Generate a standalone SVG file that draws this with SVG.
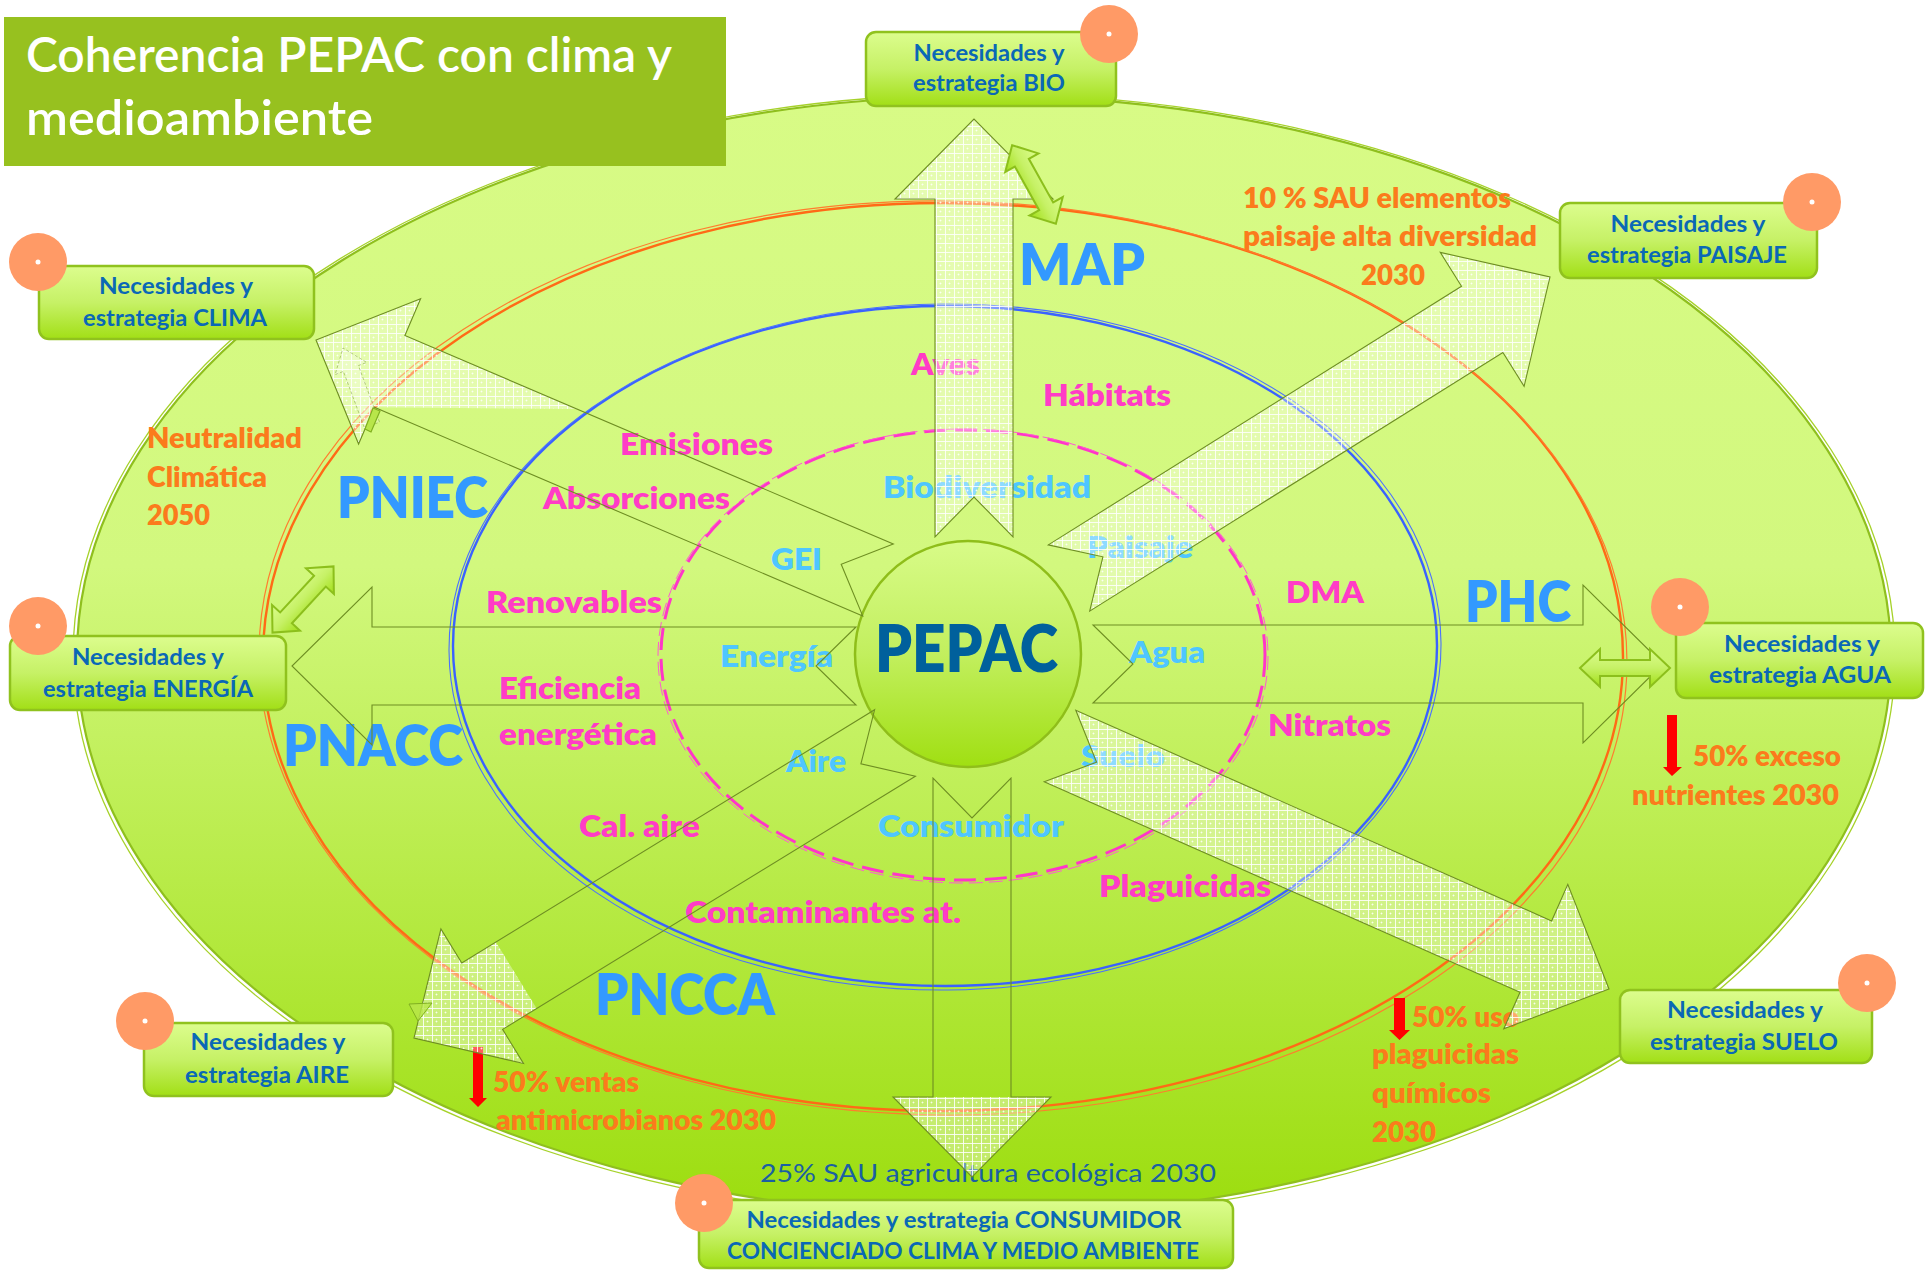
<svg xmlns="http://www.w3.org/2000/svg" xmlns:xlink="http://www.w3.org/1999/xlink" width="1930" height="1270" viewBox="0 0 1930 1270">
<defs>
  <linearGradient id="gOuter" x1="0" y1="0" x2="0" y2="1">
    <stop offset="0" stop-color="#d8fb86"/>
    <stop offset="0.42" stop-color="#d2f87e"/>
    <stop offset="1" stop-color="#9cdd0e"/>
  </linearGradient>
  <linearGradient id="gBox" x1="0" y1="0" x2="0" y2="1">
    <stop offset="0" stop-color="#dcfd8e"/>
    <stop offset="0.5" stop-color="#c6f166"/>
    <stop offset="1" stop-color="#a2df16"/>
  </linearGradient>
  <linearGradient id="gCircle" x1="0" y1="0" x2="0" y2="1">
    <stop offset="0" stop-color="#d8fb88"/>
    <stop offset="0.5" stop-color="#c2ef5e"/>
    <stop offset="1" stop-color="#a0df12"/>
  </linearGradient>
  <pattern id="grid" width="9" height="9" patternUnits="userSpaceOnUse">
    <rect width="9" height="9" fill="#ffffff" fill-opacity="0.36"/>
    <path d="M0 0.5H9M0.5 0V9" stroke="#ffffff" stroke-width="1" stroke-opacity="0.85"/>
    <path d="M4.5 3.5V5.5M3.5 4.5H5.5" stroke="#ffffff" stroke-width="0.8" stroke-opacity="0.8"/>
  </pattern>
  <polygon id="dbl" points="-45,0 -25,-19 -25,-8 25,-8 25,-19 45,0 25,19 25,8 -25,8 -25,19"/>
  <style>
    text { font-family: Lato, "Open Sans", "Liberation Sans", sans-serif; font-weight: bold; }
    .mag { fill: #ff3cc6; font-size: 30px; font-weight: 800; }
    .lb { fill: #4ec6ff; font-size: 30px; font-weight: 800; }
    .org { fill: #fb7b1c; font-size: 28px; font-weight: 800; }
    .plan { fill: #3399ff; font-size: 56px; font-weight: 800; }
    .bx { fill: #0a68b6; font-size: 22px; text-anchor: middle; }
    .box { fill: url(#gBox); stroke: #90c21e; stroke-width: 2.5; }
    .dot { fill: #ff9a66; }
    .wd { fill: #ffffff; }
    .arr { fill: none; stroke: #6e8e22; stroke-width: 1.1; }
    .grd { fill: url(#grid); stroke: none; }
    .red { fill: #ff0000; }
    .sm { fill: url(#gBox); stroke: #8cbf1c; stroke-width: 2; }
  </style>
</defs>

<g id="background">
  <ellipse cx="984" cy="656" rx="907" ry="560" fill="url(#gOuter)" stroke="#8fbf1e" stroke-width="2.2"/>
  <ellipse cx="984" cy="657" rx="911" ry="563" fill="none" stroke="#a6d22a" stroke-width="1.3"/>
  <ellipse cx="943" cy="657" rx="680" ry="454" fill="none" stroke="#ff6a16" stroke-width="2.4"/>
  <ellipse cx="943" cy="658" rx="684" ry="457" fill="none" stroke="#ff7d2e" stroke-width="1.2" transform="rotate(0.6 943 657)"/>
  <ellipse cx="945" cy="646" rx="492" ry="340" fill="none" stroke="#3a62ff" stroke-width="2.4"/>
  <ellipse cx="945" cy="647" rx="496" ry="343" fill="none" stroke="#4a70ff" stroke-width="1.1" transform="rotate(-0.5 945 646)"/>
  <ellipse cx="963" cy="655" rx="302" ry="225" fill="none" stroke="#ff36c8" stroke-width="3" stroke-dasharray="22 9"/>
  <ellipse cx="963" cy="656" rx="305" ry="227" fill="none" stroke="#ff5ad2" stroke-width="1" stroke-dasharray="14 6"/>
</g>

<g id="node-pepac">
  <ellipse cx="968" cy="654" rx="113" ry="113" fill="url(#gCircle)" stroke="#8fbe1a" stroke-width="2.5"/>
  <text x="875" y="672" fill="#00609c" font-size="66" style="font-weight:800" textLength="183" lengthAdjust="spacingAndGlyphs">PEPAC</text>
</g>

<g id="labels">
  <text class="plan" x="1019" y="285" textLength="126" lengthAdjust="spacingAndGlyphs">MAP</text>
  <text class="plan" x="337" y="518" textLength="151" lengthAdjust="spacingAndGlyphs">PNIEC</text>
  <text class="plan" x="1465" y="622" textLength="106" lengthAdjust="spacingAndGlyphs">PHC</text>
  <text class="plan" x="283" y="766" textLength="180" lengthAdjust="spacingAndGlyphs">PNACC</text>
  <text class="plan" x="595" y="1015" textLength="180" lengthAdjust="spacingAndGlyphs">PNCCA</text>

  <text class="mag" x="911" y="375" textLength="69" lengthAdjust="spacingAndGlyphs">Aves</text>
  <text class="mag" x="1043" y="406" textLength="128" lengthAdjust="spacingAndGlyphs">Hábitats</text>
  <text class="mag" x="620" y="455" textLength="153" lengthAdjust="spacingAndGlyphs">Emisiones</text>
  <text class="mag" x="543" y="509" textLength="187" lengthAdjust="spacingAndGlyphs">Absorciones</text>
  <text class="mag" x="486" y="613" textLength="176" lengthAdjust="spacingAndGlyphs">Renovables</text>
  <text class="mag" x="499" y="699" textLength="142" lengthAdjust="spacingAndGlyphs">Eficiencia</text>
  <text class="mag" x="499" y="745" textLength="158" lengthAdjust="spacingAndGlyphs">energética</text>
  <text class="mag" x="579" y="837" textLength="121" lengthAdjust="spacingAndGlyphs">Cal. aire</text>
  <text class="mag" x="685" y="923" textLength="276" lengthAdjust="spacingAndGlyphs">Contaminantes at.</text>
  <text class="mag" x="1099" y="897" textLength="172" lengthAdjust="spacingAndGlyphs">Plaguicidas</text>
  <text class="mag" x="1268" y="736" textLength="123" lengthAdjust="spacingAndGlyphs">Nitratos</text>
  <text class="mag" x="1286" y="603" textLength="78" lengthAdjust="spacingAndGlyphs">DMA</text>

  <text class="lb" x="883" y="498" textLength="208" lengthAdjust="spacingAndGlyphs">Biodiversidad</text>
  <text class="lb" x="771" y="570" textLength="51" lengthAdjust="spacingAndGlyphs">GEI</text>
  <text class="lb" x="1087" y="558" textLength="106" lengthAdjust="spacingAndGlyphs">Paisaje</text>
  <text class="lb" x="720" y="667" textLength="113" lengthAdjust="spacingAndGlyphs">Energía</text>
  <text class="lb" x="1129" y="663" textLength="76" lengthAdjust="spacingAndGlyphs">Agua</text>
  <text class="lb" x="786" y="772" textLength="60" lengthAdjust="spacingAndGlyphs">Aire</text>
  <text class="lb" x="1081" y="767" textLength="84" lengthAdjust="spacingAndGlyphs">Suelo</text>
  <text class="lb" x="878" y="837" textLength="186" lengthAdjust="spacingAndGlyphs">Consumidor</text>

  <text class="org" x="147" y="448" textLength="155" lengthAdjust="spacingAndGlyphs">Neutralidad</text>
  <text class="org" x="147" y="487" textLength="120" lengthAdjust="spacingAndGlyphs">Climática</text>
  <text class="org" x="147" y="525" textLength="63" lengthAdjust="spacingAndGlyphs">2050</text>
  <text class="org" x="1243" y="208" textLength="268" lengthAdjust="spacingAndGlyphs">10 % SAU elementos</text>
  <text class="org" x="1243" y="246" textLength="294" lengthAdjust="spacingAndGlyphs">paisaje alta diversidad</text>
  <text class="org" x="1361" y="285" textLength="64" lengthAdjust="spacingAndGlyphs">2030</text>
  <text class="org" x="1693" y="766" textLength="148" lengthAdjust="spacingAndGlyphs">50% exceso</text>
  <text class="org" x="1632" y="805" textLength="207" lengthAdjust="spacingAndGlyphs">nutrientes 2030</text>
  <text class="org" x="493" y="1092" textLength="146" lengthAdjust="spacingAndGlyphs">50% ventas</text>
  <text class="org" x="496" y="1130" textLength="280" lengthAdjust="spacingAndGlyphs">antimicrobianos 2030</text>
  <text class="org" x="1412" y="1027" textLength="107" lengthAdjust="spacingAndGlyphs">50% uso</text>
  <text class="org" x="1372" y="1064" textLength="147" lengthAdjust="spacingAndGlyphs">plaguicidas</text>
  <text class="org" x="1372" y="1103" textLength="119" lengthAdjust="spacingAndGlyphs">químicos</text>
  <text class="org" x="1372" y="1142" textLength="64" lengthAdjust="spacingAndGlyphs">2030</text>

  <text x="760" y="1182" fill="#1a5fa3" font-size="25" style="font-weight:normal" textLength="456" lengthAdjust="spacingAndGlyphs">25% SAU agricultura ecológica 2030</text>

  <polygon class="red" points="1667,715 1677,715 1677,767 1682,767 1672,776 1663,767 1667,767"/>
  <polygon class="red" points="473,1047 483,1047 483,1098 487,1098 478,1107 469,1098 473,1098"/>
  <polygon class="red" points="1394,998 1405,998 1405,1030 1410,1030 1399.5,1040 1389,1030 1394,1030"/>
</g>

<g id="connectors">
  <polygon class="grd" points="1013,537 1013,199 1053,199 974,119 895,199 935,199 935,537 974,497"/>
  <polygon class="grd" points="1089.7,611.1 1502.9,352.5 1524.1,386.4 1550,277 1440.3,252.4 1461.5,286.3 1048.3,544.9 1102.9,556.8"/>
  <polygon class="grd" points="1044.2,781.7 1520,992.3 1503.8,1028.8 1609,989 1567.8,884.4 1551.6,920.9 1075.8,710.3 1096.6,762.2"/>
  <polygon class="grd" points="316,340 420.6,298.8 404.9,335.5 577,409 374.3,407.3 358.6,444"/>
  <polygon class="grd" points="414,1038 523.5,1063.5 502.6,1029.4 536.7,1008.5 495.9,942.1 461.8,963 440.9,928.9"/>
  <polygon class="grd" points="893,1097 1051,1097 972,1177"/>
  <polygon class="arr" points="1013,537 1013,199 1053,199 974,119 895,199 935,199 935,537 974,497"/>
  <polygon class="arr" points="1011,778 1011,1097 1051,1097 972,1177 893,1097 933,1097 933,778 972,818"/>
  <polygon class="arr" points="856,705 372,705 372,745 292,666 372,587 372,627 856,627 816,666"/>
  <polygon class="arr" points="1093,703 1583,703 1583,743 1663,664 1583,585 1583,625 1093,625 1133,664"/>
  <polygon class="arr" points="862.7,615.9 374.3,407.3 358.6,444 316,340 420.6,298.8 404.9,335.5 893.3,544.1 841.2,564.3"/>
  <polygon class="arr" points="1089.7,611.1 1502.9,352.5 1524.1,386.4 1550,277 1440.3,252.4 1461.5,286.3 1048.3,544.9 1102.9,556.8"/>
  <polygon class="arr" points="1044.2,781.7 1520,992.3 1503.8,1028.8 1609,989 1567.8,884.4 1551.6,920.9 1075.8,710.3 1096.6,762.2"/>
  <polygon class="arr" points="915.4,776.2 502.6,1029.4 523.5,1063.5 414,1038 440.9,928.9 461.8,963 874.6,709.8 860.9,763.9"/>
  <polygon points="379.5,422.1 358.4,365.6 366.7,362.4 343,348 335.1,374.6 343.4,371.4 364.5,427.9" fill="#ffffff" fill-opacity="0.25" stroke="#8aa84a" stroke-opacity="0.6" stroke-width="1" stroke-dasharray="3 2"/>
  <polygon points="373,408 380,411 371,432 365,429" fill="#b8e64a" stroke="#80b020" stroke-width="1.2"/>
  <polygon points="409,1004 432,1003 418,1021" fill="#b8e64a" fill-opacity="0.8" stroke="#80b020" stroke-width="1"/>
  <use href="#dbl" class="sm" transform="translate(1034,184.5) rotate(60.9)"/>
  <use href="#dbl" class="sm" transform="translate(303,599.5) rotate(-47.3)"/>
  <use href="#dbl" class="sm" transform="translate(1625,668)"/>
</g>

<g id="node-bio">
  <rect class="box" x="866" y="32" width="250" height="74" rx="10"/>
  <text class="bx" x="989" y="61" textLength="151" lengthAdjust="spacingAndGlyphs">Necesidades y</text>
  <text class="bx" x="989" y="91" textLength="152" lengthAdjust="spacingAndGlyphs">estrategia BIO</text>
  <circle class="dot" cx="1109" cy="34" r="29"/><circle class="wd" cx="1109" cy="34" r="2.5"/>
</g>
<g id="node-paisaje">
  <rect class="box" x="1560" y="203" width="257" height="75" rx="10"/>
  <text class="bx" x="1688" y="232" textLength="155" lengthAdjust="spacingAndGlyphs">Necesidades y</text>
  <text class="bx" x="1687" y="263" textLength="200" lengthAdjust="spacingAndGlyphs">estrategia PAISAJE</text>
  <circle class="dot" cx="1812" cy="202" r="29"/><circle class="wd" cx="1812" cy="202" r="2.5"/>
</g>
<g id="node-clima">
  <rect class="box" x="39" y="266" width="275" height="73" rx="10"/>
  <text class="bx" x="176" y="294" textLength="154" lengthAdjust="spacingAndGlyphs">Necesidades y</text>
  <text class="bx" x="175" y="326" textLength="184" lengthAdjust="spacingAndGlyphs">estrategia CLIMA</text>
  <circle class="dot" cx="38" cy="262" r="29"/><circle class="wd" cx="38" cy="262" r="2.5"/>
</g>
<g id="node-energia">
  <rect class="box" x="10" y="636" width="276" height="74" rx="10"/>
  <text class="bx" x="148" y="665" textLength="152" lengthAdjust="spacingAndGlyphs">Necesidades y</text>
  <text class="bx" x="148" y="697" textLength="210" lengthAdjust="spacingAndGlyphs">estrategia ENERGÍA</text>
  <circle class="dot" cx="38" cy="626" r="29"/><circle class="wd" cx="38" cy="626" r="2.5"/>
</g>
<g id="node-agua">
  <rect class="box" x="1676" y="623" width="247" height="75" rx="10"/>
  <text class="bx" x="1802" y="652" textLength="156" lengthAdjust="spacingAndGlyphs">Necesidades y</text>
  <text class="bx" x="1800" y="683" textLength="182" lengthAdjust="spacingAndGlyphs">estrategia AGUA</text>
  <circle class="dot" cx="1680" cy="607" r="29"/><circle class="wd" cx="1680" cy="607" r="2.5"/>
</g>
<g id="node-aire">
  <rect class="box" x="144" y="1023" width="249" height="73" rx="10"/>
  <text class="bx" x="268" y="1050" textLength="155" lengthAdjust="spacingAndGlyphs">Necesidades y</text>
  <text class="bx" x="267" y="1083" textLength="164" lengthAdjust="spacingAndGlyphs">estrategia AIRE</text>
  <circle class="dot" cx="145" cy="1021" r="29"/><circle class="wd" cx="145" cy="1021" r="2.5"/>
</g>
<g id="node-suelo">
  <rect class="box" x="1620" y="990" width="252" height="73" rx="10"/>
  <text class="bx" x="1745" y="1018" textLength="156" lengthAdjust="spacingAndGlyphs">Necesidades y</text>
  <text class="bx" x="1744" y="1050" textLength="188" lengthAdjust="spacingAndGlyphs">estrategia SUELO</text>
  <circle class="dot" cx="1867" cy="983" r="29"/><circle class="wd" cx="1867" cy="983" r="2.5"/>
</g>
<g id="node-consumidor">
  <rect class="box" x="699" y="1200" width="534" height="68" rx="10"/>
  <text class="bx" x="964" y="1228" textLength="435" lengthAdjust="spacingAndGlyphs">Necesidades y estrategia CONSUMIDOR</text>
  <text class="bx" x="963" y="1259" textLength="472" lengthAdjust="spacingAndGlyphs">CONCIENCIADO CLIMA Y MEDIO AMBIENTE</text>
  <circle class="dot" cx="704" cy="1203" r="29"/><circle class="wd" cx="704" cy="1203" r="2.5"/>
</g>

<g id="node-title">
  <rect x="4" y="17" width="722" height="149" fill="#97c11f"/>
  <text x="26" y="72" fill="#ffffff" font-size="48" style="font-weight:600" textLength="646" lengthAdjust="spacingAndGlyphs">Coherencia PEPAC con clima y</text>
  <text x="26" y="135" fill="#ffffff" font-size="48" style="font-weight:600" textLength="347" lengthAdjust="spacingAndGlyphs">medioambiente</text>
</g>
</svg>
